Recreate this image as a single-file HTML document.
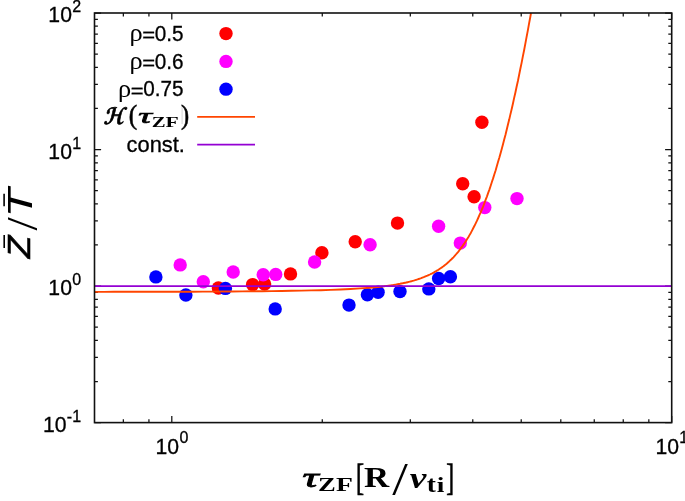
<!DOCTYPE html>
<html lang="en"><head><meta charset="utf-8"><title>Z/T versus tau_ZF</title>
<style>html,body{margin:0;padding:0;background:#fff}svg{display:block}.s{font-family:"Liberation Sans","DejaVu Sans",sans-serif;fill:#000;stroke:#000;stroke-width:.3px;font-size:21.2px}.m text{fill:#000}</style></head><body>
<svg width="685" height="501" viewBox="0 0 685 501">
<rect x="0" y="0" width="685" height="501" fill="#fff"/>
<path d="M94.50 422.60h6.6M671.70 422.60h-6.6M94.50 381.50h3.4M671.70 381.50h-3.4M94.50 357.46h3.4M671.70 357.46h-3.4M94.50 340.40h3.4M671.70 340.40h-3.4M94.50 327.17h3.4M671.70 327.17h-3.4M94.50 316.36h3.4M671.70 316.36h-3.4M94.50 307.22h3.4M671.70 307.22h-3.4M94.50 299.30h3.4M671.70 299.30h-3.4M94.50 292.31h3.4M671.70 292.31h-3.4M94.50 286.07h6.6M671.70 286.07h-6.6M94.50 244.97h3.4M671.70 244.97h-3.4M94.50 220.92h3.4M671.70 220.92h-3.4M94.50 203.87h3.4M671.70 203.87h-3.4M94.50 190.63h3.4M671.70 190.63h-3.4M94.50 179.82h3.4M671.70 179.82h-3.4M94.50 170.68h3.4M671.70 170.68h-3.4M94.50 162.76h3.4M671.70 162.76h-3.4M94.50 155.78h3.4M671.70 155.78h-3.4M94.50 149.53h6.6M671.70 149.53h-6.6M94.50 108.43h3.4M671.70 108.43h-3.4M94.50 84.39h3.4M671.70 84.39h-3.4M94.50 67.33h3.4M671.70 67.33h-3.4M94.50 54.10h3.4M671.70 54.10h-3.4M94.50 43.29h3.4M671.70 43.29h-3.4M94.50 34.15h3.4M671.70 34.15h-3.4M94.50 26.23h3.4M671.70 26.23h-3.4M94.50 19.25h3.4M671.70 19.25h-3.4M94.50 13.00h6.6M671.70 13.00h-6.6M123.35 422.60v-3.4M123.35 13.00v3.4M148.93 422.60v-3.4M148.93 13.00v3.4M171.80 422.60v-6.6M171.80 13.00v6.6M322.28 422.60v-3.4M322.28 13.00v3.4M410.31 422.60v-3.4M410.31 13.00v3.4M472.77 422.60v-3.4M472.77 13.00v3.4M521.22 422.60v-3.4M521.22 13.00v3.4M560.80 422.60v-3.4M560.80 13.00v3.4M594.26 422.60v-3.4M594.26 13.00v3.4M623.25 422.60v-3.4M623.25 13.00v3.4M648.83 422.60v-3.4M648.83 13.00v3.4M671.70 422.60v-6.6M671.70 13.00v6.6" stroke="#111" stroke-width="1.25" fill="none"/>
<g fill="#ff0000"><circle cx="218.4" cy="288" r="6.7"/><circle cx="252.6" cy="284.6" r="6.7"/><circle cx="264.6" cy="284.1" r="6.7"/><circle cx="290.5" cy="273.9" r="6.7"/><circle cx="321.9" cy="252.7" r="6.7"/><circle cx="355.2" cy="241.7" r="6.7"/><circle cx="397.5" cy="223.1" r="6.7"/><circle cx="462.7" cy="183.8" r="6.7"/><circle cx="474.1" cy="196.7" r="6.7"/><circle cx="481.9" cy="122.3" r="6.7"/></g>
<g fill="#ff00ff"><circle cx="180.2" cy="264.9" r="6.7"/><circle cx="203.3" cy="281.8" r="6.7"/><circle cx="233.2" cy="272" r="6.7"/><circle cx="263.2" cy="274.8" r="6.7"/><circle cx="275.7" cy="274.4" r="6.7"/><circle cx="314.6" cy="262" r="6.7"/><circle cx="370.1" cy="244.7" r="6.7"/><circle cx="438.6" cy="226.3" r="6.7"/><circle cx="460.3" cy="243.1" r="6.7"/><circle cx="484.8" cy="207.6" r="6.7"/><circle cx="517" cy="198.6" r="6.7"/></g>
<g fill="#0000ff"><circle cx="155.9" cy="276.9" r="6.7"/><circle cx="185.9" cy="295" r="6.7"/><circle cx="225.4" cy="288.4" r="6.7"/><circle cx="275.2" cy="308.9" r="6.7"/><circle cx="349" cy="305.1" r="6.7"/><circle cx="367.4" cy="294.8" r="6.7"/><circle cx="378.1" cy="292.3" r="6.7"/><circle cx="400" cy="291.6" r="6.7"/><circle cx="428.8" cy="288.9" r="6.7"/><circle cx="438.6" cy="278.5" r="6.7"/><circle cx="450.4" cy="276.8" r="6.7"/></g>
<circle cx="226" cy="33.6" r="6.7" fill="#ff0000"/>
<circle cx="226" cy="61.4" r="6.7" fill="#ff00ff"/>
<circle cx="226" cy="89.15" r="6.7" fill="#0000ff"/>
<polyline points="94.5,291.9 104.3,291.9 114.2,291.8 124.0,291.8 133.9,291.8 143.7,291.8 153.6,291.8 163.4,291.8 173.3,291.7 183.1,291.7 192.9,291.7 202.8,291.6 212.6,291.6 222.5,291.5 232.3,291.5 242.2,291.4 252.0,291.3 261.9,291.2 271.7,291.1 281.6,291.0 291.4,290.8 301.2,290.6 311.1,290.4 320.9,290.2 330.8,289.9 340.6,289.5 350.5,289.0 360.3,288.4 370.2,287.7 380.0,286.7 384.0,286.3 385.2,286.1 386.5,285.9 387.7,285.8 389.0,285.6 390.2,285.4 391.4,285.3 392.7,285.1 393.9,284.9 395.2,284.7 396.4,284.5 397.6,284.2 398.9,284.0 400.1,283.8 401.4,283.5 402.6,283.3 403.8,283.0 405.1,282.8 406.3,282.5 407.6,282.2 408.8,281.9 410.0,281.6 411.3,281.3 412.5,280.9 413.7,280.6 415.0,280.2 416.2,279.8 417.5,279.4 418.7,279.0 419.9,278.6 421.2,278.2 422.4,277.7 423.7,277.2 424.9,276.7 426.1,276.2 427.4,275.7 428.6,275.1 429.9,274.5 431.1,273.9 432.3,273.3 433.6,272.6 434.8,271.9 436.1,271.2 437.3,270.4 438.5,269.7 439.8,268.8 441.0,268.0 442.3,267.1 443.5,266.2 444.7,265.2 446.0,264.2 447.2,263.2 448.5,262.1 449.7,260.9 450.9,259.8 452.2,258.5 453.4,257.3 454.7,255.9 455.9,254.5 457.1,253.1 458.4,251.6 459.6,250.0 460.8,248.4 462.1,246.7 463.3,244.9 464.6,243.1 465.8,241.2 467.0,239.2 468.3,237.2 469.5,235.1 470.8,232.9 472.0,230.6 473.2,228.3 474.5,225.8 475.7,223.3 477.0,220.7 478.2,218.0 479.4,215.2 480.7,212.3 481.9,209.4 483.2,206.3 484.4,203.1 485.6,199.9 486.9,196.6 488.1,193.1 489.4,189.6 490.6,186.0 491.8,182.2 493.1,178.4 494.3,174.5 495.6,170.5 496.8,166.3 498.0,162.1 499.3,157.8 500.5,153.4 501.8,148.8 503.0,144.2 504.2,139.5 505.5,134.7 506.7,129.8 507.9,124.7 509.2,119.6 510.4,114.4 511.7,109.1 512.9,103.7 514.1,98.1 515.4,92.5 516.6,86.8 517.9,81.0 519.1,75.0 520.3,69.0 521.6,62.9 522.8,56.6 524.1,50.3 525.3,43.8 526.5,37.3 527.8,30.6 529.0,23.9 530.3,17.0 531.0,13.0" fill="none" stroke="#ff4500" stroke-width="1.9" stroke-linejoin="round"/>
<line x1="94.5" y1="286.2" x2="671.7" y2="286.2" stroke="#9400d3" stroke-width="1.8"/>
<line x1="197.2" y1="116.9" x2="255" y2="116.9" stroke="#ff4500" stroke-width="1.9"/>
<line x1="197.2" y1="144.65" x2="255" y2="144.65" stroke="#9400d3" stroke-width="1.8"/>
<rect x="94.5" y="13.0" width="577.20" height="409.60" fill="none" stroke="#111" stroke-width="1.6"/>
<g><text class="s" x="71.95" y="22.45" text-anchor="end">10</text><text class="s" x="72.15" y="12.10" style="font-size:16px">2</text></g>
<g><text class="s" x="71.95" y="158.95" text-anchor="end">10</text><text class="s" x="72.15" y="148.60" style="font-size:16px">1</text></g>
<g><text class="s" x="71.95" y="295.45" text-anchor="end">10</text><text class="s" x="72.15" y="285.10" style="font-size:16px">0</text></g>
<g><text class="s" x="66.62" y="432.25" text-anchor="end">10</text><text class="s" x="66.82" y="421.90" style="font-size:16px">-1</text></g>
<g><text class="s" x="155.5" y="453.6">10</text><text class="s" x="179.40" y="443.35" style="font-size:16px">0</text></g>
<g><text class="s" x="655.4" y="453.6">10</text><text class="s" x="679.30" y="443.35" style="font-size:16px">1</text></g>
<g class="m"><text transform="translate(129.60,40.99) scale(0.2639,0.2448)" font-size="100" font-family='"Liberation Serif","DejaVu Serif",serif' font-weight="normal" font-style="normal" >ρ</text><text transform="translate(142.32,41.98) scale(0.2202,0.1955)" font-size="100" font-family='"Liberation Sans","DejaVu Sans",sans-serif' font-weight="normal" font-style="normal" stroke="#000" stroke-width="1.5">=</text><text class="s" transform="translate(154.79,40.9) scale(0.9765,1)" font-size="21.2">0.5</text></g>
<g class="m"><text transform="translate(129.60,68.79) scale(0.2639,0.2448)" font-size="100" font-family='"Liberation Serif","DejaVu Serif",serif' font-weight="normal" font-style="normal" >ρ</text><text transform="translate(142.32,69.78) scale(0.2202,0.1955)" font-size="100" font-family='"Liberation Sans","DejaVu Sans",sans-serif' font-weight="normal" font-style="normal" stroke="#000" stroke-width="1.5">=</text><text class="s" transform="translate(154.79,68.7) scale(0.9779,1)" font-size="21.2">0.6</text></g>
<g class="m"><text transform="translate(118.10,96.54) scale(0.2639,0.2448)" font-size="100" font-family='"Liberation Serif","DejaVu Serif",serif' font-weight="normal" font-style="normal" >ρ</text><text transform="translate(130.82,97.53) scale(0.2202,0.1955)" font-size="100" font-family='"Liberation Sans","DejaVu Sans",sans-serif' font-weight="normal" font-style="normal" stroke="#000" stroke-width="1.5">=</text><text class="s" transform="translate(143.29,96.45) scale(0.9762,1)" font-size="21.2">0.75</text></g>
<text class="s" transform="translate(126.57,151.95000000000002) scale(1.0312,1)" font-size="21.2">const.</text>
<g class="m"><text transform="translate(103.53,123.88) skewX(-13) scale(0.1873,0.2264)" font-size="100" font-family='"DejaVu Sans",sans-serif' font-weight="bold" font-style="normal" stroke="#000" stroke-width="3.5">ℋ</text><text transform="translate(128.69,124.26) scale(0.2531,0.2790)" font-size="100" font-family='"Liberation Serif","DejaVu Serif",serif' font-weight="normal" font-style="normal" stroke="#000" stroke-width="2">(</text><text transform="translate(138.26,123.49) scale(0.3823,0.2176)" font-size="100" font-family='"Liberation Serif","DejaVu Serif",serif' font-weight="normal" font-style="italic" stroke="#000" stroke-width="3">τ</text><text transform="translate(151.71,127.00) scale(0.2076,0.1481)" font-size="100" font-family='"Liberation Serif","DejaVu Serif",serif' font-weight="bold" font-style="normal" >Z</text><text transform="translate(165.53,127.00) scale(0.2162,0.1481)" font-size="100" font-family='"Liberation Serif","DejaVu Serif",serif' font-weight="bold" font-style="normal" >F</text><text transform="translate(181.01,124.26) scale(0.2453,0.2790)" font-size="100" font-family='"Liberation Serif","DejaVu Serif",serif' font-weight="normal" font-style="normal" stroke="#000" stroke-width="2">)</text></g>
<line x1="182.1" y1="107" x2="182.1" y2="124" stroke="#ccc" stroke-width="0.8"/>
<g class="m"><text transform="translate(302.41,487.03) scale(0.4506,0.2773)" font-size="100" font-family='"Liberation Serif","DejaVu Serif",serif' font-weight="normal" font-style="italic" stroke="#000" stroke-width="3">τ</text><text transform="translate(318.03,491.10) scale(0.2657,0.1894)" font-size="100" font-family='"Liberation Serif","DejaVu Serif",serif' font-weight="bold" font-style="normal" >Z</text><text transform="translate(335.93,491.10) scale(0.2766,0.1894)" font-size="100" font-family='"Liberation Serif","DejaVu Serif",serif' font-weight="bold" font-style="normal" >F</text><text transform="translate(356.00,490.24) scale(0.2425,0.3709)" font-size="100" font-family='"Liberation Serif","DejaVu Serif",serif' font-weight="normal" font-style="normal" stroke="#000" stroke-width="2">[</text><text transform="translate(364.00,487.40) scale(0.3488,0.2841)" font-size="100" font-family='"Liberation Serif","DejaVu Serif",serif' font-weight="bold" font-style="normal" >R</text><text transform="translate(392.30,494.75) scale(0.5615,0.4589)" font-size="100" font-family='"Liberation Serif","DejaVu Serif",serif' font-weight="normal" font-style="normal" >/</text><text transform="translate(409.85,487.50) scale(0.3744,0.3026)" font-size="100" font-family='"Liberation Serif","DejaVu Serif",serif' font-weight="bold" font-style="italic" >v</text><text transform="translate(426.66,491.67) scale(0.2752,0.2357)" font-size="100" font-family='"Liberation Serif","DejaVu Serif",serif' font-weight="bold" font-style="normal" >t</text><text transform="translate(436.70,491.60) scale(0.2736,0.2133)" font-size="100" font-family='"Liberation Serif","DejaVu Serif",serif' font-weight="bold" font-style="normal" >i</text><text transform="translate(446.16,490.24) scale(0.2335,0.3709)" font-size="100" font-family='"Liberation Serif","DejaVu Serif",serif' font-weight="normal" font-style="normal" stroke="#000" stroke-width="2">]</text></g>
<g class="m" transform="translate(0,300) rotate(-90)"><text transform="translate(41.82,29.50) scale(0.3692,0.3067)" font-size="100" font-family='"Liberation Sans","DejaVu Sans",sans-serif' font-weight="normal" font-style="italic" stroke="#000" stroke-width="2">Z</text><text transform="translate(69.50,36.86) scale(0.4751,0.4515)" font-size="100" font-family='"Liberation Serif","DejaVu Serif",serif' font-weight="normal" font-style="normal" >/</text><text transform="translate(82.43,31.60) scale(0.4758,0.3547)" font-size="100" font-family='"Liberation Sans","DejaVu Sans",sans-serif' font-weight="normal" font-style="italic" >T</text><path d="M51.9 4.2H65.0M93.7 4.1H106.3" stroke="#000" stroke-width="1.6" fill="none"/></g>
</svg></body></html>
